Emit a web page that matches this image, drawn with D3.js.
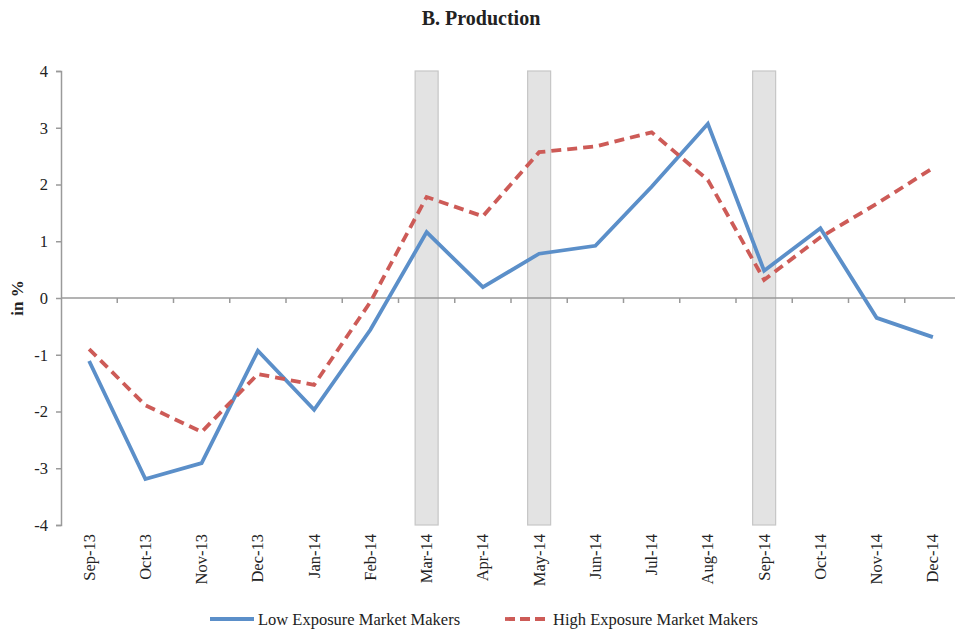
<!DOCTYPE html>
<html>
<head>
<meta charset="utf-8">
<script src="https://cdn.jsdelivr.net/npm/d3@7"></script>
<style>
  body { margin: 0; background: #fff; }
  text { font-family: "Liberation Serif", "DejaVu Serif", serif; fill: #222; }
</style>
</head>
<body>
<script>
// months on the x axis
var months = ['Sep-13','Oct-13','Nov-13','Dec-13','Jan-14','Feb-14','Mar-14','Apr-14',
              'May-14','Jun-14','Jul-14','Aug-14','Sep-14','Oct-14','Nov-14','Dec-14'];
var lowExposure  = [-1.11,-3.19,-2.91,-0.93,-1.97,-0.56,1.16,0.19,0.78,0.92,1.96,3.07,0.48,1.23,-0.35,-0.69];
var highExposure = [-0.90,-1.89,-2.36,-1.34,-1.53,-0.07,1.78,1.44,2.57,2.67,2.92,2.08,0.32,1.07,1.66,2.29];
var shaded = ['Mar-14','May-14','Sep-14'];
var yTicks = [-4,-3,-2,-1,0,1,2,3,4];

var width = 955, height = 631;
var plotL = 61, plotR = 961, plotT = 71, plotB = 525;

var svg = d3.select('body').append('svg')
    .attr('width', width)
    .attr('height', height);

var x = d3.scaleBand().domain(months).range([plotL, plotR]);
var y = d3.scaleLinear().domain([-4, 4]).range([plotB, plotT]);

// shaded months
svg.selectAll('rect.shade')
  .data(shaded)
  .enter()
  .append('rect')
  .attr('class', 'shade')
  .attr('x', d => x(d) + x.bandwidth() / 2 - 11.5)
  .attr('width', 23)
  .attr('y', y(4))
  .attr('height', y(-4) - y(4))
  .attr('fill', '#e3e3e3')
  .attr('stroke', '#c6c6c6')
  .attr('stroke-width', 1.2);

// y axis
var yAxis = svg.append('g')
  .attr('transform', 'translate(' + plotL + ',0)')
  .call(d3.axisLeft(y).tickValues(yTicks).tickSize(5).tickPadding(8).tickFormat(d => String(d)));
yAxis.select('.domain').attr('stroke', '#9a9a9a').attr('stroke-width', 1.5);
yAxis.selectAll('.tick line').attr('stroke', '#9a9a9a').attr('stroke-width', 1.5);
yAxis.selectAll('.tick text').style('font-size', '16.5px').attr('fill', '#222')
  .style('font-family', '"Liberation Serif", serif');

// zero line with ticks between months
var xAxis = svg.append('g')
  .attr('transform', 'translate(0,' + y(0) + ')');
xAxis.append('line')
  .attr('x1', plotL).attr('x2', plotR)
  .attr('stroke', '#9a9a9a').attr('stroke-width', 1.5);
xAxis.selectAll('line.tk')
  .data(months.slice(1))
  .enter()
  .append('line')
  .attr('class', 'tk')
  .attr('x1', d => x(d)).attr('x2', d => x(d))
  .attr('y1', 0).attr('y2', 5)
  .attr('stroke', '#9a9a9a').attr('stroke-width', 1.5);

// month labels
svg.selectAll('text.month')
  .data(months)
  .enter()
  .append('text')
  .attr('class', 'month')
  .attr('transform', d => 'translate(' + (x(d) + x.bandwidth() / 2 + 5.5) + ',' + (plotB + 9) + ') rotate(-90)')
  .attr('text-anchor', 'end')
  .style('font-size', '16.5px')
  .text(d => d);

// lines
var line = d3.line()
  .x((d, i) => x(months[i]) + x.bandwidth() / 2)
  .y(d => y(d));

svg.append('path')
  .datum(lowExposure)
  .attr('d', line)
  .attr('fill', 'none')
  .attr('stroke', '#5b8fc9')
  .attr('stroke-width', 3.8)
  .attr('stroke-linejoin', 'miter');

svg.append('path')
  .datum(highExposure)
  .attr('d', line)
  .attr('fill', 'none')
  .attr('stroke', '#cd5b57')
  .attr('stroke-width', 3.8)
  .attr('stroke-dasharray', '10,6');

// title
svg.append('text')
  .attr('x', 481)
  .attr('y', 25)
  .attr('text-anchor', 'middle')
  .style('font-size', '20px')
  .style('font-weight', 'bold')
  .text('B. Production');

// y label
svg.append('text')
  .attr('transform', 'translate(23,' + y(0) + ') rotate(-90)')
  .attr('text-anchor', 'middle')
  .style('font-size', '17px')
  .style('font-weight', 'bold')
  .text('in %');

// legend
var legend = [
  {name: 'Low Exposure Market Makers', color: '#5b8fc9', dash: null, x: 210},
  {name: 'High Exposure Market Makers', color: '#cd5b57', dash: '10,5', x: 505}
];
var lg = svg.selectAll('g.legend')
  .data(legend)
  .enter()
  .append('g')
  .attr('class', 'legend')
  .attr('transform', d => 'translate(' + d.x + ',619)');
lg.append('line')
  .attr('x1', 0).attr('x2', 44)
  .attr('stroke', d => d.color)
  .attr('stroke-width', 3.8)
  .attr('stroke-dasharray', d => d.dash);
lg.append('text')
  .attr('x', 48)
  .attr('y', 5.5)
  .style('font-size', '16.5px')
  .text(d => d.name);
</script>
</body>
</html>
